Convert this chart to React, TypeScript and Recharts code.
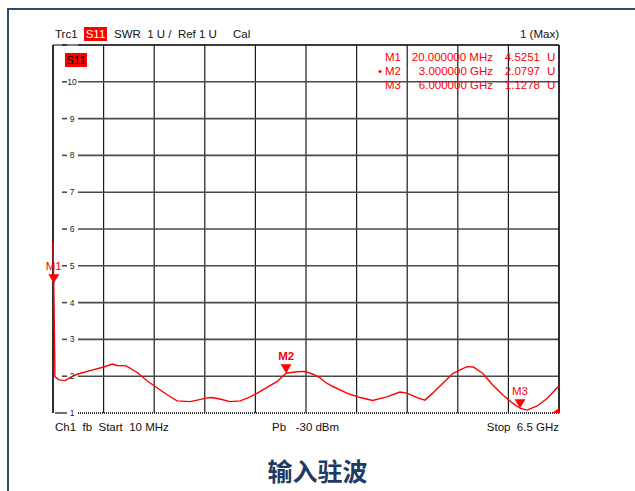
import {
  LineChart,
  Line,
  XAxis,
  YAxis,
  CartesianGrid,
  ReferenceLine,
  ReferenceDot,
} from 'recharts';

// sweep points (GHz / SWR)
const FREQ_GHZ = [
  0.01, 0.02, 0.035, 0.087, 0.164, 0.25, 0.33, 0.52, 0.66, 0.77, 0.83, 0.95,
  1.09, 1.22, 1.32, 1.48, 1.6, 1.77, 1.86, 1.99, 2.05, 2.15, 2.28, 2.41, 2.51,
  2.63, 2.75, 2.88, 3.0, 3.14, 3.24, 3.34, 3.43, 3.52, 3.6, 3.78, 3.82, 3.95,
  4.11, 4.29, 4.46, 4.55, 4.68, 4.78, 4.88, 5.01, 5.14, 5.32, 5.4, 5.52, 5.65,
  5.78, 5.91, 6.0, 6.09, 6.22, 6.35, 6.5,
];
const SWR = [
  5.65, 4.53, 1.99, 1.9, 1.88, 1.99, 2.06, 2.17, 2.25, 2.33, 2.29, 2.28,
  2.1, 1.87, 1.72, 1.49, 1.33, 1.31, 1.35, 1.41, 1.42, 1.38, 1.31, 1.33, 1.41,
  1.54, 1.69, 1.85, 2.08, 2.12, 2.13, 2.06, 1.96, 1.81, 1.72, 1.54, 1.51, 1.42,
  1.34, 1.44, 1.57, 1.54, 1.42, 1.35, 1.54, 1.81, 2.08, 2.26, 2.25, 2.08, 1.76,
  1.49, 1.26, 1.13, 1.08, 1.19, 1.4, 1.74,
];

const X_TICKS = [0.01, 0.659, 1.308, 1.957, 2.606, 3.255, 3.904, 4.553, 5.202, 5.851, 6.5];
const Y_TICKS = [1, 2, 3, 4, 5, 6, 7, 8, 9, 10, 11];

const MARKER_NAMES = ['M1', 'M2', 'M3'];
const MARKER_FREQ = [0.02, 3.0, 6.0];
const MARKER_VALUE = [4.5251, 2.0797, 1.1278];
const MARKER_STIM = ['20.000000 MHz', '3.000000 GHz', '6.000000 GHz'];

const data = FREQ_GHZ.map((f, i) => ({ f, v: SWR[i] }));

const PLOT_LEFT = 53;
const RED = '#ff0000';
const FONT = "'Liberation Sans', Arial, sans-serif";

function YTick(props: any) {
  const { y, payload } = props;
  if (payload.value === 11) return null;
  return (
    <text x={PLOT_LEFT + 19} y={y + 3} textAnchor="middle" fontSize={8.5} fontFamily={FONT} fill="#222">
      {payload.value}
    </text>
  );
}

// horizontal grid line, broken where the tick label sits; the bottom one is dotted
function hLine(props: any) {
  const { x1, x2, y1, y2, y, height } = props;
  if (x1 == null || x2 == null) return <g />;
  const isBottom = y != null && height != null && Math.abs(y1 - (y + height)) < 1;
  if (isBottom) {
    return (
      <g>
        <line x1={x1 + 2} x2={x1 + 14} y1={y1} y2={y2} stroke="#333" strokeWidth={1.4} />
        <line x1={x1 + 25} x2={x2} y1={y1} y2={y2} stroke="#333" strokeWidth={2} strokeDasharray="1 1" />
      </g>
    );
  }
  return (
    <g>
      <line x1={x1 + 9} x2={x1 + 14} y1={y1} y2={y2} stroke="#4a4a4a" strokeWidth={1.6} />
      <line x1={x1 + 25} x2={x2} y1={y1} y2={y2} stroke="#4a4a4a" strokeWidth={1.6} />
    </g>
  );
}

function markerShape(name: string, bold: boolean) {
  return (props: any) => {
    const { cx, cy } = props;
    return (
      <g>
        <polygon points={`${cx - 5.5},${cy - 9} ${cx + 5.5},${cy - 9} ${cx},${cy}`} fill={RED} />
        <text
          x={cx}
          y={cy - 13}
          textAnchor="middle"
          fontSize={11.5}
          fontWeight={bold ? 700 : 400}
          fontFamily={FONT}
          fill={RED}
        >
          {name}
        </text>
      </g>
    );
  };
}

function cornerShape(props: any) {
  const { cx, cy } = props;
  return <polygon points={`${cx - 7},${cy} ${cx},${cy} ${cx},${cy - 5}`} fill={RED} />;
}

const txt = (extra: React.CSSProperties): React.CSSProperties => ({
  position: 'absolute',
  fontSize: 11.5,
  lineHeight: '14px',
  whiteSpace: 'pre',
  fontFamily: FONT,
  color: '#111',
  ...extra,
});

export default function App() {
  return (
    <div style={{ position: 'absolute', left: 0, top: 0, width: 635, height: 491, overflow: 'hidden', background: '#fff' }}>
      <div
        style={{
          position: 'absolute',
          left: 7,
          top: 8,
          width: 628,
          height: 483,
          borderLeft: '2px solid #2d4a72',
          borderTop: '2px solid #2d4a72',
          boxSizing: 'border-box',
        }}
      />
      <div style={{ position: 'absolute', left: 0, top: 0 }}>
        <LineChart width={635} height={491} data={data} margin={{ top: 45, right: 76, bottom: 78, left: 0 }}>
          <XAxis dataKey="f" type="number" domain={[0.01, 6.5]} ticks={X_TICKS} hide />
          <YAxis
            type="number"
            domain={[1, 11]}
            ticks={Y_TICKS}
            width={PLOT_LEFT}
            axisLine={false}
            tickLine={false}
            tick={<YTick />}
            interval={0}
          />
          <CartesianGrid horizontal={false} stroke="#1a1a1a" strokeWidth={1.2} />
          <CartesianGrid vertical={false} horizontal={hLine} />
          <ReferenceLine x={0.01} stroke="#000" strokeWidth={1.2} />
          <ReferenceLine x={6.5} stroke="#000" strokeWidth={1.2} />
          <ReferenceLine y={11} stroke="#000" strokeWidth={1.2} />
          <Line
            dataKey="v"
            type="linear"
            stroke={RED}
            strokeWidth={1.4}
            dot={false}
            isAnimationActive={false}
          />
          {MARKER_NAMES.map((name, i) => (
            <ReferenceDot
              key={name}
              x={MARKER_FREQ[i]}
              y={MARKER_VALUE[i]}
              ifOverflow="visible"
              shape={markerShape(name, name === 'M2')}
            />
          ))}
          <ReferenceDot x={6.5} y={1} ifOverflow="visible" shape={cornerShape} />
        </LineChart>
      </div>

      {/* header line */}
      <div style={txt({ left: 55, top: 27 })}>Trc1</div>
      <div style={txt({ left: 84, top: 27, width: 23, background: RED, color: '#fff', textAlign: 'center' })}>S11</div>
      <div style={txt({ left: 114, top: 27 })}>{'SWR  1 U /  Ref 1 U'}</div>
      <div style={txt({ left: 233, top: 27 })}>Cal</div>
      <div style={txt({ right: 76, top: 27, textAlign: 'right' })}>1 (Max)</div>

      {/* trace label inside grid */}
      <div style={txt({ left: 65, top: 53, width: 22, background: RED, color: '#000', textAlign: 'center' })}>S11</div>

      {/* marker table */}
      {MARKER_NAMES.map((name, i) => (
        <div key={name}>
          {i === 1 && <div style={txt({ left: 378, top: 50 + i * 14, color: RED })}>•</div>}
          <div style={txt({ right: 234, top: 50 + i * 14, color: RED, textAlign: 'right' })}>{name}</div>
          <div style={txt({ right: 142, top: 50 + i * 14, color: RED, textAlign: 'right' })}>{MARKER_STIM[i]}</div>
          <div style={txt({ right: 95, top: 50 + i * 14, color: RED, textAlign: 'right' })}>{MARKER_VALUE[i].toFixed(4)}</div>
          <div style={txt({ left: 547, top: 50 + i * 14, color: RED })}>U</div>
        </div>
      ))}

      {/* footer line */}
      <div style={txt({ left: 55, top: 420 })}>{'Ch1  fb  Start  10 MHz'}</div>
      <div style={txt({ left: 272, top: 420 })}>{'Pb   -30 dBm'}</div>
      <div style={txt({ right: 76, top: 420, textAlign: 'right' })}>{'Stop  6.5 GHz'}</div>

      <div
        style={{
          position: 'absolute',
          left: 0,
          top: 453,
          width: 635,
          textAlign: 'center',
          fontFamily: "'Noto Sans CJK SC', sans-serif",
          fontWeight: 700,
          fontSize: 25,
          lineHeight: '34px',
          color: '#1f3a63',
        }}
      >
        输入驻波
      </div>
    </div>
  );
}
